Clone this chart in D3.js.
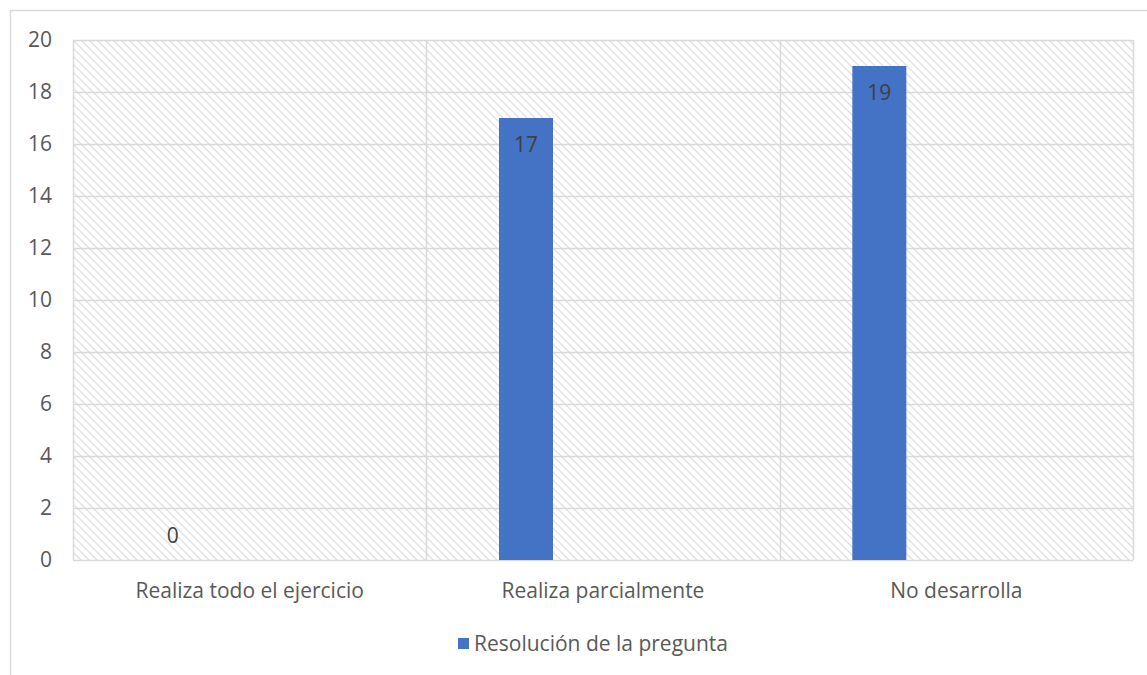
<!DOCTYPE html>
<html>
<head>
<meta charset="utf-8">
<script src="https://cdn.jsdelivr.net/npm/d3@7"></script>
<style>
  body { margin: 0; background: #fff; }
  text { font-family: "Open Sans", "Noto Sans", sans-serif; fill: #595959; }
</style>
</head>
<body>
<div id="chart"></div>
<script>
// Chart data
const categories = ['Realiza todo el ejercicio', 'Realiza parcialmente', 'No desarrolla'];
const values = [0, 17, 19];
const seriesName = 'Resolución de la pregunta';
const yTicks = [0, 2, 4, 6, 8, 10, 12, 14, 16, 18, 20];

const width = 1147;
const height = 675;
const margin = { top: 40, right: 14, bottom: 115, left: 73 };
const innerWidth = width - margin.left - margin.right;
const innerHeight = height - margin.top - margin.bottom;
const fontSize = '21px';

const svg = d3.select('#chart')
    .append('svg')
    .attr('width', width)
    .attr('height', height);

// Hatch pattern for plot background
const defs = svg.append('defs');
const pattern = defs.append('pattern')
    .attr('id', 'hatch')
    .attr('patternUnits', 'userSpaceOnUse')
    .attr('width', 8)
    .attr('height', 8);
pattern.append('path')
    .attr('d', 'M-2,-2 L10,10 M-2,6 L2,10 M6,-2 L10,2')
    .attr('stroke', '#e0e0e0')
    .attr('stroke-width', 1.3);

// Outer chart border
svg.append('rect')
    .attr('x', 10.5)
    .attr('y', 10.5)
    .attr('width', width + 20)
    .attr('height', height + 20)
    .attr('fill', 'none')
    .attr('stroke', '#d9d9d9')
    .attr('stroke-width', 1.5);

const g = svg.append('g')
    .attr('transform', `translate(${margin.left},${margin.top})`);

// Scales
const x = d3.scaleBand()
    .domain(categories)
    .range([0, innerWidth]);

// Three slots per category, only the first one holds the series
const xSlot = d3.scaleBand()
    .domain([0, 1, 2])
    .range([x.bandwidth() / 2 - 104, x.bandwidth() / 2 + 104])
    .paddingInner(23 / 77);

const y = d3.scaleLinear()
    .domain([0, 20])
    .range([innerHeight, 0]);

// Background
g.append('rect')
    .attr('width', innerWidth)
    .attr('height', innerHeight)
    .attr('fill', 'url(#hatch)');

// Horizontal grid lines
g.append('g')
    .selectAll('line')
    .data(yTicks)
    .enter().append('line')
    .attr('x1', 0)
    .attr('x2', innerWidth)
    .attr('y1', d => Math.round(y(d)) + 0.5)
    .attr('y2', d => Math.round(y(d)) + 0.5)
    .attr('stroke', '#d9d9d9')
    .attr('stroke-width', 1.5);

// Vertical category separators
const sepX = categories.map(c => x(c)).concat([innerWidth]);
g.append('g')
    .selectAll('line')
    .data(sepX)
    .enter().append('line')
    .attr('x1', d => Math.round(d) + 0.5)
    .attr('x2', d => Math.round(d) + 0.5)
    .attr('y1', 0)
    .attr('y2', innerHeight)
    .attr('stroke', '#d9d9d9')
    .attr('stroke-width', 1.5);

// Bars
g.selectAll('.bar')
    .data(values)
    .enter().append('rect')
    .attr('class', 'bar')
    .attr('x', (d, i) => x(categories[i]) + xSlot(0))
    .attr('y', d => y(d))
    .attr('width', xSlot.bandwidth())
    .attr('height', d => innerHeight - y(d))
    .attr('fill', '#4472c4');

// Value labels
g.selectAll('.label')
    .data(values)
    .enter().append('text')
    .attr('class', 'label')
    .attr('x', (d, i) => x(categories[i]) + xSlot(0) + xSlot.bandwidth() / 2)
    .attr('y', d => d > 0 ? y(d) + 27 : y(d) - 24)
    .attr('dy', '0.35em')
    .attr('text-anchor', 'middle')
    .attr('font-size', fontSize)
    .style('fill', '#404040')
    .text(d => d);

// Y axis labels
g.append('g')
    .selectAll('text')
    .data(yTicks)
    .enter().append('text')
    .attr('x', -21)
    .attr('y', d => y(d))
    .attr('dy', '0.35em')
    .attr('text-anchor', 'end')
    .attr('font-size', fontSize)
    .text(d => d);

// X axis labels
g.append('g')
    .selectAll('text')
    .data(categories)
    .enter().append('text')
    .attr('x', d => x(d) + x.bandwidth() / 2)
    .attr('y', innerHeight + 31)
    .attr('dy', '0.35em')
    .attr('text-anchor', 'middle')
    .attr('font-size', fontSize)
    .text(d => d);

// Legend
const legend = svg.append('g')
    .attr('transform', 'translate(458,638)');
legend.append('rect')
    .attr('width', 11)
    .attr('height', 11)
    .attr('fill', '#4472c4');
legend.append('text')
    .attr('x', 16)
    .attr('y', 6)
    .attr('dy', '0.35em')
    .attr('font-size', fontSize)
    .text(seriesName);
</script>
</body>
</html>
